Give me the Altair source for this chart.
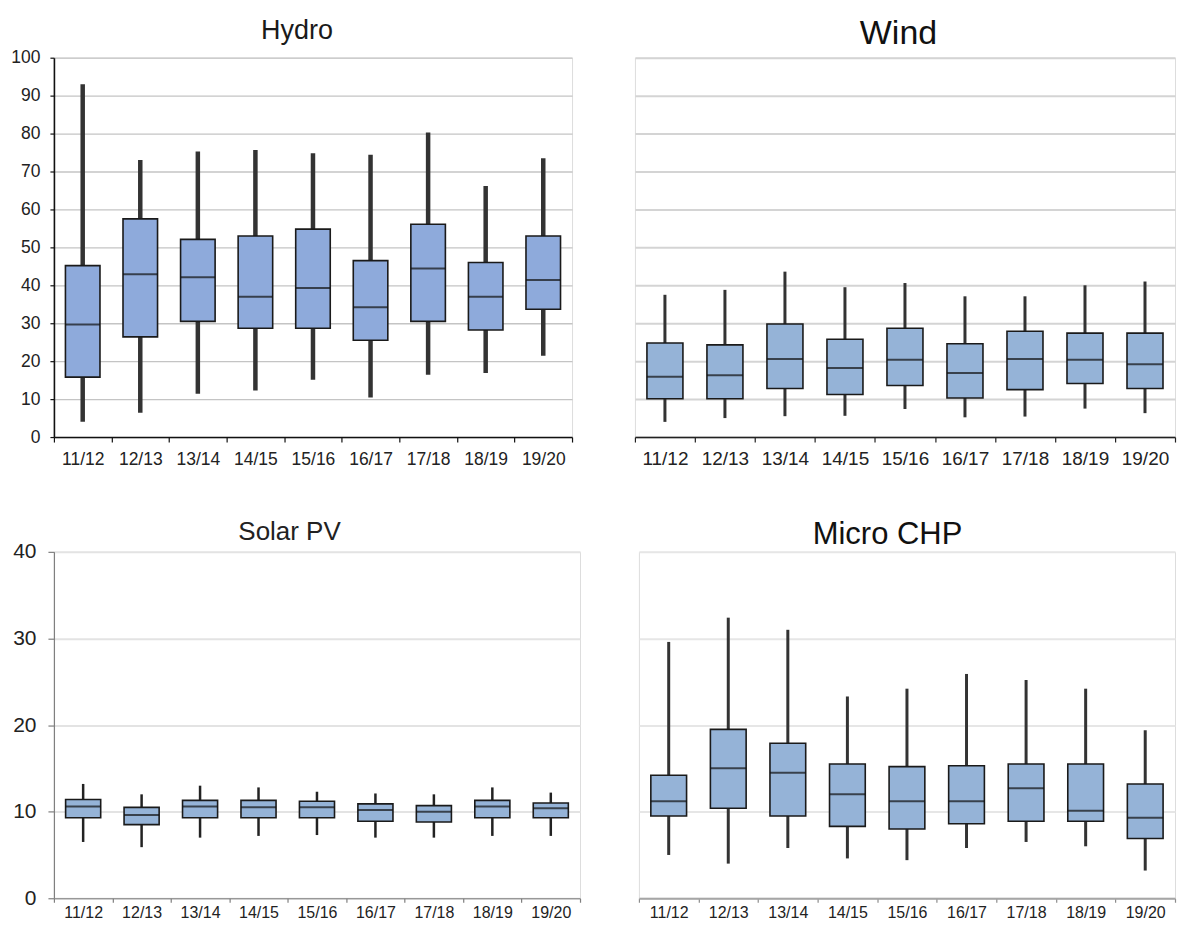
import altair as alt
import pandas as pd

cats = ["11/12", "12/13", "13/14", "14/15", "15/16", "16/17", "17/18", "18/19", "19/20"]

# Hydro
hydro_lo = [4.0, 6.4, 11.4, 12.3, 15.1, 10.4, 16.4, 16.9, 21.4]
hydro_q1 = [15.8, 26.4, 30.5, 28.7, 28.7, 25.5, 30.5, 28.2, 33.7]
hydro_med = [29.7, 42.9, 42.1, 37.0, 39.3, 34.2, 44.4, 37.0, 41.4]
hydro_q3 = [45.2, 57.5, 52.1, 53.0, 54.8, 46.5, 56.1, 46.0, 53.0]
hydro_hi = [93.0, 73.0, 75.3, 75.7, 74.8, 74.4, 80.3, 66.2, 73.5]

# Wind
wind_lo = [4.0, 5.0, 5.5, 5.6, 7.4, 5.2, 5.4, 7.5, 6.3]
wind_q1 = [10.1, 10.1, 12.8, 11.2, 13.6, 10.3, 12.5, 14.1, 12.8]
wind_med = [15.9, 16.3, 20.6, 18.2, 20.4, 16.9, 20.6, 20.4, 19.2]
wind_q3 = [24.8, 24.3, 29.8, 25.8, 28.7, 24.6, 27.9, 27.4, 27.4]
wind_hi = [37.5, 38.8, 43.6, 39.5, 40.6, 37.1, 37.1, 40.0, 41.0]

# Solar PV
solar_lo = [6.5, 5.9, 7.0, 7.2, 7.3, 7.0, 7.0, 7.2, 7.2]
solar_q1 = [9.3, 8.5, 9.3, 9.3, 9.3, 8.9, 8.8, 9.3, 9.3]
solar_med = [10.6, 9.6, 10.6, 10.5, 10.5, 10.2, 10.0, 10.6, 10.4]
solar_q3 = [11.4, 10.5, 11.3, 11.3, 11.2, 10.9, 10.7, 11.3, 11.0]
solar_hi = [13.2, 12.0, 13.0, 12.8, 12.3, 12.1, 12.0, 12.8, 12.2]

# Micro CHP
chp_lo = [5.0, 4.0, 5.8, 4.6, 4.4, 5.8, 6.5, 6.0, 3.2]
chp_q1 = [9.5, 10.4, 9.5, 8.3, 8.0, 8.6, 8.9, 8.9, 6.9]
chp_med = [11.2, 15.0, 14.5, 12.0, 11.2, 11.2, 12.7, 10.1, 9.3]
chp_q3 = [14.2, 19.5, 17.9, 15.5, 15.2, 15.3, 15.5, 15.5, 13.2]
chp_hi = [29.6, 32.4, 31.0, 23.3, 24.2, 25.9, 25.2, 24.2, 19.4]

FONT = "Liberation Sans"


def make_panel(title, lo, q1, med, q3, hi, width, height, ymax, yaxis, xaxis,
               fill, wcolor, wwidth):
    df = pd.DataFrame({"cat": cats, "lo": lo, "q1": q1, "med": med, "q3": q3, "hi": hi})
    yscale = alt.Scale(domain=[0, ymax], nice=False, zero=True)
    xenc = alt.X("cat:N", sort=cats, axis=xaxis,
                 scale=alt.Scale(paddingInner=0, paddingOuter=0))
    base = alt.Chart(df).encode(x=xenc)
    boxw = 0.6 * width / len(cats)
    whisk = base.mark_rule(color=wcolor, strokeWidth=wwidth).encode(
        y=alt.Y("lo:Q", scale=yscale, axis=yaxis), y2="hi:Q")
    box = base.mark_bar(width=alt.RelativeBandSize(0.6), fill=fill,
                        stroke="#1a1a1a", strokeWidth=1.6).encode(
        y=alt.Y("q1:Q", scale=yscale, axis=yaxis), y2="q3:Q")
    medt = base.mark_tick(color="#111111", thickness=2, size=boxw).encode(
        y=alt.Y("med:Q", scale=yscale, axis=yaxis))
    return alt.layer(whisk, box, medt).properties(width=width, height=height, title=title)


def xaxis(domain_color, domain_width, size, pad, tick_color, tick_size=5):
    return alt.Axis(title=None, labelAngle=0, tickBand="extent", grid=False,
                    domainColor=domain_color, domainWidth=domain_width,
                    tickColor=tick_color, tickSize=tick_size, tickWidth=1.2,
                    labelFont=FONT, labelFontSize=size, labelColor="#222222",
                    labelPadding=pad)


hydro = make_panel(
    alt.TitleParams("Hydro", font=FONT, fontSize=27, fontWeight="normal", color="#1a1a1a",
                    anchor="middle", frame="group", dx=-16, offset=4),
    hydro_lo, hydro_q1, hydro_med, hydro_q3, hydro_hi, 519, 380, 100,
    alt.Axis(title=None, values=list(range(0, 101, 10)), grid=True, gridColor="#c4c4c4",
             gridWidth=1.3, domainColor="#111111", domainWidth=1.6, tickColor="#111111",
             tickSize=4, tickWidth=1.2, labelFont=FONT, labelFontSize=17.5,
             labelColor="#222222", labelPadding=10),
    xaxis("#111111", 1.6, 17.5, 8, "#111111"),
    "#8eaadb", "#333333", 4.5)

wind = make_panel(
    alt.TitleParams("Wind", font=FONT, fontSize=34, fontWeight="normal", color="#111111",
                    anchor="middle", frame="group", dx=-6.5, offset=7),
    wind_lo, wind_q1, wind_med, wind_q3, wind_hi, 541, 380, 100,
    alt.Axis(title=None, values=list(range(0, 101, 10)), grid=True, gridColor="#d4d4d4",
             gridWidth=2, labels=False, ticks=False, domain=False),
    xaxis("#222222", 1.6, 19, 7, "#222222"),
    "#95b3d7", "#333333", 3)

solar = make_panel(
    alt.TitleParams("Solar PV", font=FONT, fontSize=26, fontWeight="normal", color="#222222",
                    anchor="middle", frame="group", dx=-27.5, offset=-4),
    solar_lo, solar_q1, solar_med, solar_q3, solar_hi, 527, 347, 40,
    alt.Axis(title=None, values=[0, 10, 20, 30, 40], grid=True, gridColor="#e3e3e3",
             gridWidth=2, domainColor="#7f7f7f", domainWidth=1.2, tickColor="#7f7f7f",
             tickSize=6, tickWidth=1.2, labelFont=FONT, labelFontSize=21,
             labelColor="#222222", labelPadding=12),
    xaxis("#7f7f7f", 1.2, 16, 2, "#7f7f7f", 4),
    "#95b3d7", "#222222", 2.5)

chp = make_panel(
    alt.TitleParams("Micro CHP", font=FONT, fontSize=31, fontWeight="normal", color="#111111",
                    anchor="middle", frame="group", dx=-19.5, offset=1),
    chp_lo, chp_q1, chp_med, chp_q3, chp_hi, 537, 347, 40,
    alt.Axis(title=None, values=[0, 10, 20, 30, 40], grid=True, gridColor="#e6e6e6",
             gridWidth=2, labels=False, ticks=False, domain=False),
    xaxis("#a6a6a6", 2, 16, 2, "#8c8c8c", 4),
    "#95b3d7", "#333333", 3)

top = alt.hconcat(hydro, wind, spacing=63, bounds="flush")
bottom = alt.hconcat(solar, chp, spacing=59, bounds="flush")
# nested concat rows count as zero-height under flush bounds, so spacing = row height + gap
chart = alt.vconcat(top, bottom, spacing=380 + 115, bounds="flush").properties(
    padding={"left": 2, "top": 7, "right": 0, "bottom": 0}
).configure_view(stroke=None).configure(background="white")

chart.save("out.html", embed_options={"renderer": "svg", "actions": False})
